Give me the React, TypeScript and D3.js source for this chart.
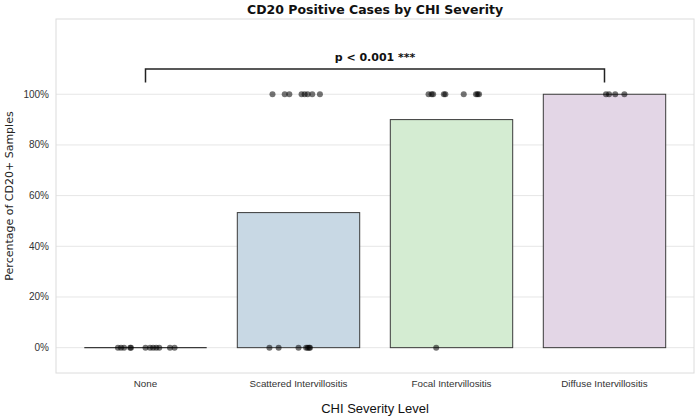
import { useEffect, useRef } from "react"
import * as d3 from "d3"

const categories = ["None", "Scattered Intervillositis", "Focal Intervillositis", "Diffuse Intervillositis"]
const percentPositive = [0, 53.3, 90, 100]
const barColors = ["#d9d9d9", "#c8d8e4", "#d4ecd2", "#e3d6e6"]

// individual samples: category index, jitter offset (in category units), value (%)
const sampleCategory = [
  0, 0, 0, 0, 0, 0, 0, 0, 0, 0, 0, 0,
  1, 1, 1, 1, 1, 1, 1, 1, 1, 1, 1, 1, 1, 1, 1,
  2, 2, 2, 2, 2, 2, 2, 2, 2, 2,
  3, 3, 3, 3,
]
const sampleJitter = [
  -0.18, -0.16, -0.14, -0.1, -0.095, 0.0, 0.03, 0.05, 0.07, 0.09, 0.16, 0.19,
  -0.17, -0.09, -0.06, 0.02, 0.04, 0.06, 0.09, 0.14, -0.19, -0.13, 0.0, 0.05, 0.06, 0.07, 0.075,
  -0.15, -0.13, -0.12, -0.05, -0.04, 0.08, 0.16, 0.17, 0.18, -0.1,
  0.01, 0.03, 0.07, 0.13,
]
const sampleValue = [
  0, 0, 0, 0, 0, 0, 0, 0, 0, 0, 0, 0,
  100, 100, 100, 100, 100, 100, 100, 100, 0, 0, 0, 0, 0, 0, 0,
  100, 100, 100, 100, 100, 100, 100, 100, 100, 0,
  100, 100, 100, 100,
]

const yTicks = [0, 20, 40, 60, 80, 100]
const bracket = { from: 0, to: 3, top: 110, drop: 104.6, label: "p < 0.001 ***" }

export default function App() {
  const svgRef = useRef<SVGSVGElement>(null)

  useEffect(() => {
    if (!svgRef.current) return
    const svg = d3.select(svgRef.current)
    svg.selectAll("*").remove()

    const width = 700
    const height = 420
    const left = 56
    const right = 694
    const top = 19
    const bottom = 373

    svg.attr("width", width).attr("height", height)

    const x = d3.scaleLinear().domain([-0.585, 3.585]).range([left, right])
    const y = d3.scaleLinear().domain([-10, 129.7]).range([bottom, top])
    const barWidth = 0.8

    // grid lines
    svg.append("g")
      .selectAll("line")
      .data(yTicks)
      .join("line")
      .attr("x1", left)
      .attr("x2", right)
      .attr("y1", (d) => y(d))
      .attr("y2", (d) => y(d))
      .style("stroke", "#e6e6e6")
      .style("stroke-width", 1)

    // bars
    svg.append("g")
      .selectAll("rect")
      .data(percentPositive)
      .join("rect")
      .attr("x", (_, i) => x(i - barWidth / 2))
      .attr("width", x(barWidth) - x(0))
      .attr("y", (d) => y(d))
      .attr("height", (d) => y(0) - y(d))
      .style("fill", (_, i) => barColors[i])
      .style("stroke", "#3a3a3a")
      .style("stroke-width", 1)

    // zero-height bar still shows as a flat line
    svg.append("g")
      .selectAll("line")
      .data(percentPositive.filter((d) => d === 0).map((_, i) => i))
      .join("line")
      .attr("x1", (i) => x(i - barWidth / 2))
      .attr("x2", (i) => x(i + barWidth / 2))
      .attr("y1", y(0))
      .attr("y2", y(0))
      .style("stroke", "#3a3a3a")
      .style("stroke-width", 1.3)

    // strip points
    svg.append("g")
      .selectAll("circle")
      .data(sampleValue.map((v, i) => ({ v, c: sampleCategory[i], j: sampleJitter[i] })))
      .join("circle")
      .attr("cx", (d) => x(d.c + d.j))
      .attr("cy", (d) => y(d.v))
      .attr("r", 3)
      .style("fill", "#000")
      .style("fill-opacity", 0.55)

    // frame
    svg.append("rect")
      .attr("x", left)
      .attr("y", top)
      .attr("width", right - left)
      .attr("height", bottom - top)
      .style("fill", "none")
      .style("stroke", "#dcdcdc")
      .style("stroke-width", 1)

    // y tick labels
    svg.append("g")
      .selectAll("text")
      .data(yTicks)
      .join("text")
      .attr("x", left - 7)
      .attr("y", (d) => y(d))
      .attr("text-anchor", "end")
      .attr("dominant-baseline", "central")
      .style("font-family", "Liberation Sans, Arial, sans-serif")
      .style("font-size", "10px")
      .style("fill", "#333")
      .text((d) => `${d}%`)

    // x tick labels
    svg.append("g")
      .selectAll("text")
      .data(categories)
      .join("text")
      .attr("x", (_, i) => x(i))
      .attr("y", 383)
      .attr("text-anchor", "middle")
      .attr("dominant-baseline", "central")
      .style("font-family", "Liberation Sans, Arial, sans-serif")
      .style("font-size", "9.8px")
      .style("fill", "#333")
      .text((d) => d)

    // significance bracket
    const bx1 = x(bracket.from)
    const bx2 = x(bracket.to)
    svg.append("path")
      .attr("d", `M${bx1},${y(bracket.drop)}V${y(bracket.top)}H${bx2}V${y(bracket.drop)}`)
      .style("fill", "none")
      .style("stroke", "#222")
      .style("stroke-width", 1.5)

    svg.append("text")
      .attr("x", (bx1 + bx2) / 2)
      .attr("y", y(bracket.top) - 8)
      .attr("text-anchor", "middle")
      .style("font-family", "DejaVu Sans, sans-serif")
      .style("font-weight", "bold")
      .style("font-size", "11px")
      .style("fill", "#111")
      .text(bracket.label)

    // title and axis labels
    svg.append("text")
      .attr("x", (left + right) / 2)
      .attr("y", 14)
      .attr("text-anchor", "middle")
      .style("font-family", "DejaVu Sans, sans-serif")
      .style("font-weight", "bold")
      .style("font-size", "12.5px")
      .style("fill", "#111")
      .text("CD20 Positive Cases by CHI Severity")

    svg.append("text")
      .attr("transform", `translate(13, ${(top + bottom) / 2}) rotate(-90)`)
      .attr("text-anchor", "middle")
      .style("font-family", "DejaVu Sans, sans-serif")
      .style("font-size", "11px")
      .style("fill", "#222")
      .text("Percentage of CD20+ Samples")

    svg.append("text")
      .attr("x", (left + right) / 2)
      .attr("y", 413)
      .attr("text-anchor", "middle")
      .style("font-family", "Liberation Sans, Arial, sans-serif")
      .style("font-size", "13px")
      .style("fill", "#111")
      .text("CHI Severity Level")
  }, [])

  return (
    <svg
      ref={svgRef}
      style={{ position: "absolute", left: 0, top: 0, display: "block", background: "#fff" }}
    />
  )
}
